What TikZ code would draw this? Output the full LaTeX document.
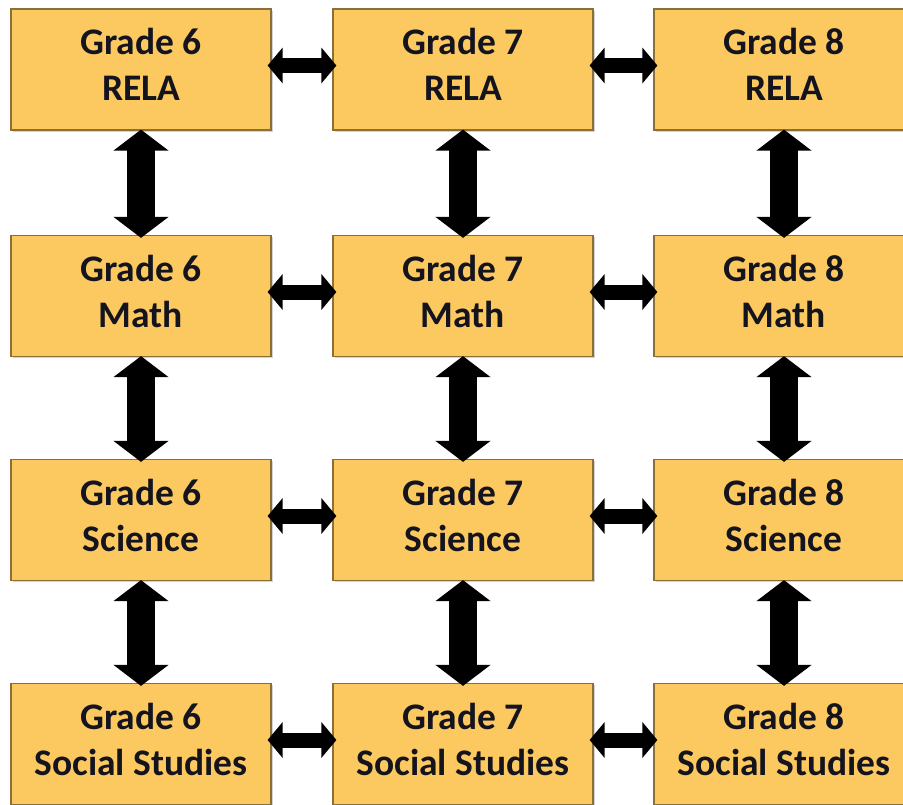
\documentclass[tikz,border=0pt]{standalone}
\usepackage{fontspec}
\setmainfont{Carlito}
\usetikzlibrary{arrows.meta,shadows}
\definecolor{boxfill}{RGB}{252,200,96}
\definecolor{boxline}{RGB}{140,110,55}
\definecolor{boxtext}{RGB}{20,20,30}
\tikzset{
    subj/.style={draw=boxline, line width=1.2pt, fill=boxfill,
        minimum width=260pt, minimum height=121pt,
        drop shadow={shadow xshift=1.5pt, shadow yshift=-1.5pt, opacity=0.35}},
    subjtext/.style={align=center, text=boxtext,
        font=\fontsize{37.5}{46}\selectfont\bfseries},
    harr/.style={line width=15pt,
        {Triangle[width=35pt,length=15pt]}-{Triangle[width=35pt,length=15pt]},
        shorten <=-4pt, shorten >=-4pt},
    varr/.style={line width=28pt,
        {Triangle[width=54pt,length=21pt]}-{Triangle[width=54pt,length=21pt]},
        shorten <=-1pt, shorten >=-3pt}
}
\begin{document}
\begin{tikzpicture}[x=1pt, y=1pt]
    \useasboundingbox (0,0) rectangle (903,-804);
    \clip (0,0) rectangle (903,-804);

    \foreach \g/\x in {6/141,7/463,8/784}
        \foreach \s/\y/\r in {RELA/69.5/1,Math/296/2,Science/520/3,Social Studies/744/4} {
            \node[subj] (n\g\r) at (\x,-\y) {};
            \node[subjtext] (t\g\r) at ([yshift=5pt]n\g\r.center) {Grade \g\\\s};
        }

    % left-right arrows
    \foreach \r in {1,...,4} {
        \draw[harr] ([yshift=4pt]n6\r.east) -- ([yshift=4pt]n7\r.west);
        \draw[harr] ([yshift=4pt]n7\r.east) -- ([yshift=4pt]n8\r.west);
    }

    % up-down arrows
    \foreach \g in {6,7,8}
        \foreach \r/\n in {1/2,2/3,3/4}
            \draw[varr] (n\g\r.south) -- (n\g\n.north);
\end{tikzpicture}
\end{document}
